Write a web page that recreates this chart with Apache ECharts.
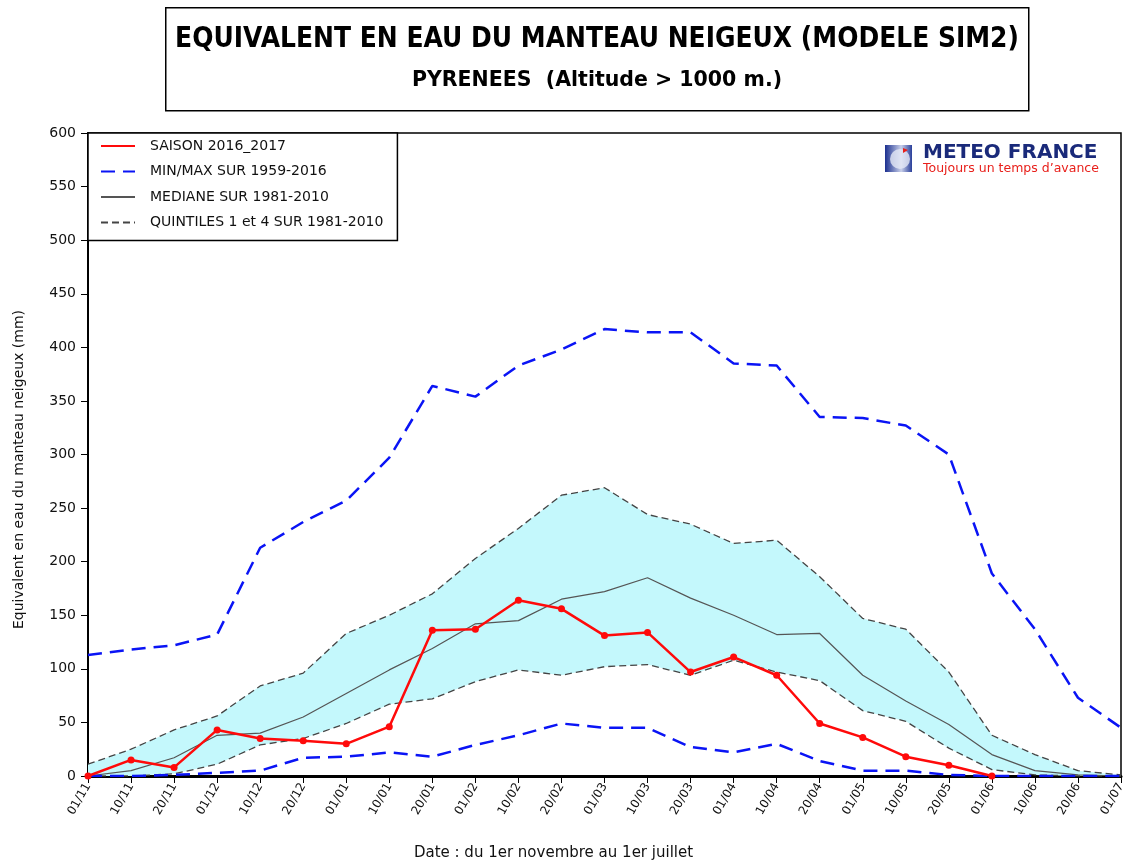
<!DOCTYPE html>
<html>
<head>
<meta charset="utf-8">
<script src="https://cdn.jsdelivr.net/npm/echarts@6/dist/echarts.min.js"></script>
<style>
  html, body { margin: 0; padding: 0; background: #fff; }
  #chart { width: 1140px; height: 861px; }
</style>
</head>
<body>
<div id="chart"></div>
<script>
  // dates from 1 Nov to 1 Jul
  var categories = ['01/11', '10/11', '20/11', '01/12', '10/12', '20/12', '01/01', '10/01', '20/01',
    '01/02', '10/02', '20/02', '01/03', '10/03', '20/03', '01/04', '10/04', '20/04',
    '01/05', '10/05', '20/05', '01/06', '10/06', '20/06', '01/07']

  var saison = [0, 15, 8, 43, 35, 33, 30, 46, 136, 137, 164, 156, 131, 134, 97, 111, 94, 49, 36, 18, 10, 0,
    null, null, null]
  var maxi = [113, 118, 122, 132, 213, 237, 257, 297, 364, 354, 383, 398, 417, 414, 414, 385, 383, 335,
    334, 327, 300, 189, 137, 73, 45]
  var mini = [0, 0, 1, 3, 5, 17, 18, 22, 18, 29, 38, 49, 45, 45, 27, 22, 30, 14, 5, 5, 1, 0, 0, 0, 0]
  var mediane = [0, 5, 17, 38, 40, 55, 77, 99, 119, 142, 145, 165, 172, 185, 166, 150, 132, 133, 94, 70,
    48, 20, 5, 1, 0]
  var quintile4 = [11, 25, 43, 56, 84, 96, 133, 150, 170, 203, 231, 262, 269, 244, 235, 217, 220, 186,
    147, 137, 97, 38, 20, 5, 1]
  var quintile1 = [0, 0, 2, 11, 29, 35, 49, 67, 72, 88, 99, 94, 102, 104, 94, 108, 97, 89, 61, 51, 26,
    6, 1, 0, 0]

  var nomSaison = 'SAISON 2016_2017'
  var nomMinMax = 'MIN/MAX SUR 1959-2016'
  var nomMediane = 'MEDIANE SUR 1981-2010'
  var nomQuintiles = 'QUINTILES 1 et 4 SUR 1981-2010'

  // epaisseur de la bande = quintile 4 - quintile 1 (empilee sur quintile 1)
  var bande = quintile4.map(function (v, i) { return v - quintile1[i] })

  var chart = echarts.init(document.getElementById('chart'))
  var font = 'DejaVu Sans'

  var option = {
    backgroundColor: '#fff',
    animation: false,
    textStyle: { fontFamily: font },
    grid: {
      left: 88, right: 19, top: 133, bottom: 85,
      outerBoundsMode: 'none',
      show: true, borderColor: '#000', borderWidth: 1.5
    },
    legend: {
      data: [nomSaison, nomMinMax, nomMediane, nomQuintiles],
      orient: 'vertical',
      left: 88, top: 133,
      padding: [6, 14, 11, 12],
      itemWidth: 34, itemHeight: 14, itemGap: 11.5,
      backgroundColor: '#fff',
      borderColor: '#000', borderWidth: 1.5, borderRadius: 0,
      itemStyle: { opacity: 0 },
      selectedMode: false,
      textStyle: { fontSize: 14, color: '#111', fontFamily: font, padding: [0, 0, 0, 10] }
    },
    xAxis: {
      type: 'category',
      data: categories,
      boundaryGap: false,
      name: 'Date : du 1er novembre au 1er juillet',
      nameLocation: 'middle',
      nameGap: 70,
      nameTextStyle: { fontSize: 15, color: '#111', fontFamily: font, padding: [0, 102, 0, 0] },
      axisLine: { onZero: false, lineStyle: { color: '#000', width: 3 } },
      axisTick: { alignWithLabel: true, length: 7, lineStyle: { color: '#000', width: 1 } },
      axisLabel: { rotate: 60, fontSize: 12, color: '#111', margin: 8, interval: 0 },
      splitLine: { show: false }
    },
    yAxis: {
      type: 'value',
      min: 0, max: 600, interval: 50,
      name: 'Equivalent en eau du manteau neigeux (mm)',
      nameLocation: 'middle',
      nameGap: 62,
      nameTextStyle: { fontSize: 14, color: '#111', fontFamily: font, padding: [0, 30, 0, 0] },
      axisLine: { show: true, lineStyle: { color: '#000', width: 2 } },
      axisTick: { show: true, length: 7, lineStyle: { color: '#000', width: 1 } },
      axisLabel: { fontSize: 14, color: '#111', margin: 12 },
      splitLine: { show: false }
    },
    graphic: [
      {
        type: 'rect', left: 165, top: 7, z: 10,
        shape: { width: 863, height: 103 },
        style: { fill: '#fff', stroke: '#000', lineWidth: 1.5 }
      },
      {
        type: 'text', x: 597, y: 40, z: 11, scaleY: 1.1, originX: 0, originY: 0,
        style: { text: 'EQUIVALENT EN EAU DU MANTEAU NEIGEUX (MODELE SIM2)', fill: '#000',
          font: 'bold 25px "DejaVu Sans"', align: 'center', verticalAlign: 'middle' }
      },
      {
        type: 'text', x: 597, y: 80, z: 11, scaleY: 1.05, originX: 0, originY: 0,
        style: { text: 'PYRENEES  (Altitude > 1000 m.)', fill: '#000', font: 'bold 20.5px "DejaVu Sans"',
          align: 'center', verticalAlign: 'middle' }
      },
      // logo meteo france
      {
        type: 'rect', left: 885, top: 145, z: 10,
        shape: { width: 27, height: 27 },
        style: {
          fill: new echarts.graphic.LinearGradient(0, 0, 1, 0, [
            { offset: 0, color: '#1b2f8f' }, { offset: 0.6, color: '#c9d0ea' }, { offset: 1, color: '#2a3f9a' }
          ])
        }
      },
      {
        type: 'circle', left: 890, top: 149, z: 11,
        shape: { r: 10 },
        style: { fill: '#e5e8f5', opacity: 0.8 }
      },
      {
        type: 'polygon', z: 12,
        shape: { points: [[903, 148], [908, 150], [903, 153]] },
        style: { fill: '#e8201b' }
      },
      {
        type: 'text', left: 923, top: 143, z: 11,
        style: { text: 'METEO FRANCE', fill: '#1a2a7a', font: 'bold 20px "DejaVu Sans"' }
      },
      {
        type: 'text', left: 923, top: 162, z: 11,
        style: { text: 'Toujours un temps d\u2019avance', fill: '#e8201b', font: '12.5px "DejaVu Sans"' }
      }
    ],
    series: [
      {
        name: 'base', type: 'line', data: quintile1, stack: 'bande',
        symbol: 'none', lineStyle: { opacity: 0 }, silent: true, z: 1
      },
      {
        name: 'bande', type: 'line', data: bande, stack: 'bande',
        symbol: 'none', lineStyle: { opacity: 0 }, silent: true, z: 1,
        areaStyle: { color: '#c4f8fc', opacity: 1 }
      },
      {
        name: nomQuintiles, type: 'line', data: quintile4, symbol: 'none', z: 3,
        lineStyle: { color: '#444', width: 1.3, type: [7, 4] }, itemStyle: { color: '#444' }
      },
      {
        name: nomQuintiles, type: 'line', data: quintile1, symbol: 'none', z: 3,
        lineStyle: { color: '#444', width: 1.3, type: [7, 4] }, itemStyle: { color: '#444' }
      },
      {
        name: nomMediane, type: 'line', data: mediane, symbol: 'none', z: 3,
        lineStyle: { color: '#555', width: 1.2 }, itemStyle: { color: '#555' }
      },
      {
        name: nomMinMax, type: 'line', data: maxi, symbol: 'none', z: 4,
        lineStyle: { color: '#0a14f5', width: 2.5, type: [14, 8] }, itemStyle: { color: '#0a14f5' }
      },
      {
        name: nomMinMax, type: 'line', data: mini, symbol: 'none', z: 4,
        lineStyle: { color: '#0a14f5', width: 2.5, type: [14, 8] }, itemStyle: { color: '#0a14f5' }
      },
      {
        name: nomSaison, type: 'line', data: saison, symbol: 'circle', symbolSize: 7, z: 5,
        lineStyle: { color: '#ff0a0a', width: 2.5 }, itemStyle: { color: '#ff0a0a' }
      }
    ]
  }

  chart.setOption(option)
</script>
</body>
</html>
